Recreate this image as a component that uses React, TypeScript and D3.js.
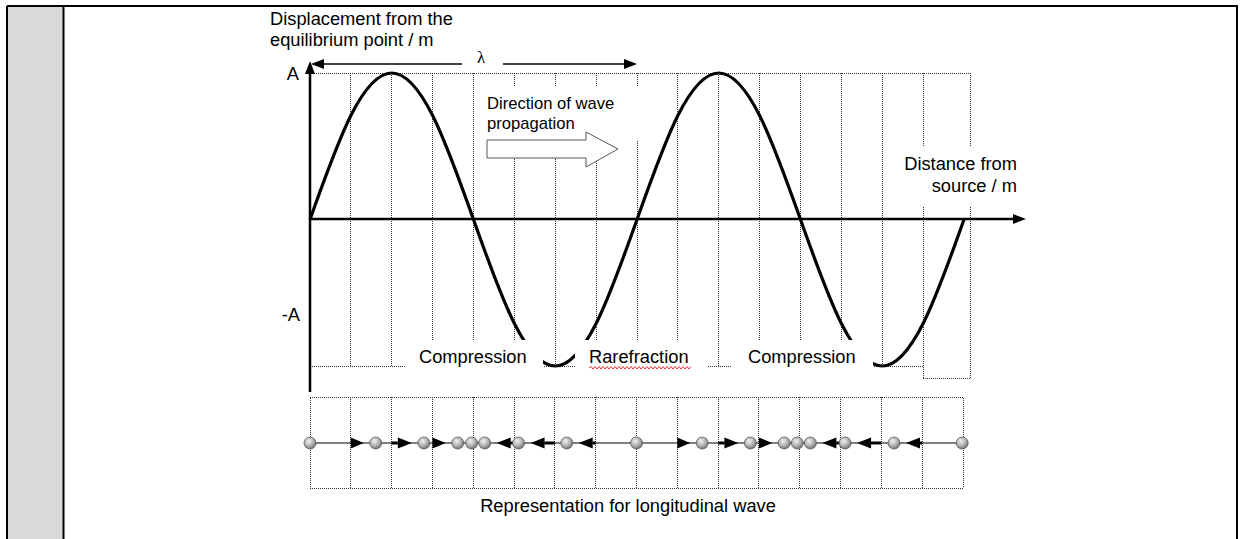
import * as d3 from "d3";

// grid cells along the distance axis (one cell = 1/8 wavelength)
const waveCells = [0, 1, 2, 3, 4, 5, 6, 7, 8, 9, 10, 11, 12, 13, 14, 15, 16];
// displacement (in units of A) read at each grid line
const waveDisp = [0, 0.71, 1, 0.71, 0, -0.71, -1, -0.71, 0, 0.71, 1, 0.71, 0, -0.71, -1, -0.71, 0];
const gridCells = [1, 2, 3, 4, 5, 6, 7, 8, 9, 10, 11, 12, 13, 14, 15];
const rightEdge = 16.17;

// particle positions (in cells) for the longitudinal representation
const particleEq = [0, 1, 2, 3, 4, 5, 6, 7, 8, 9, 10, 11, 12, 13, 14, 15, 16];
const particlePos = [0, 1.61, 2.79, 3.62, 3.96, 4.28, 5.11, 6.29, 8, 9.61, 10.79, 11.62, 11.94, 12.26, 13.11, 14.31, 15.98];

const labels = ["Compression", "Rarefraction", "Compression"];

const FONT = "'Liberation Sans', Arial, sans-serif";

export default function App() {
  const x = d3.scaleLinear().domain([0, 16]).range([310, 964]);
  const y = d3.scaleLinear().domain([-1, 1]).range([366, 73]);
  const xp = d3.scaleLinear().domain([0, 16]).range([310, 963]);
  const rowY = 443;

  const wavePts = waveCells.map((c, i) => [c, waveDisp[i]] as [number, number]);
  const wavePath = d3
    .line<[number, number]>()
    .x((d) => x(d[0]))
    .y((d) => y(d[1]))
    .curve(d3.curveNatural)(wavePts) as string;

  const dot = {
    stroke: "#333",
    strokeWidth: 1,
    strokeDasharray: "1 1",
    fill: "none",
    shapeRendering: "crispEdges" as const,
  };

  // red wavy spell-check underline
  let squiggle = "M589,368";
  for (let xx = 589, k = 0; xx < 690; xx += 2, k++) {
    squiggle += ` L${xx + 2},${k % 2 === 0 ? 366.5 : 369}`;
  }

  const labelBoxes = [
    { x0: 405, x1: 543, tx: 419 },
    { x0: 575, x1: 707, tx: 589 },
    { x0: 732, x1: 873, tx: 748 },
  ];

  const r = 6;

  return (
    <svg
      width={1240}
      height={539}
      style={{ position: "absolute", left: 0, top: 0, background: "#fff" }}
      fontFamily={FONT}
    >
      <defs>
        <radialGradient id="ball" cx="40%" cy="35%" r="70%">
          <stop offset="0%" stopColor="#f2f2f2" />
          <stop offset="60%" stopColor="#aaaaaa" />
          <stop offset="100%" stopColor="#686868" />
        </radialGradient>
      </defs>

      {/* page frame */}
      <rect x={8} y={7} width={55} height={532} fill="#d9d9d9" />
      <line x1={7} y1={6} x2={1238} y2={6} stroke="#000" strokeWidth={2} />
      <line x1={7} y1={6} x2={7} y2={539} stroke="#000" strokeWidth={2} />
      <line x1={63.5} y1={6} x2={63.5} y2={539} stroke="#000" strokeWidth={2} />
      <line x1={1237} y1={6} x2={1237} y2={539} stroke="#000" strokeWidth={2} />

      {/* dotted grid */}
      <line x1={x(0)} x2={x(rightEdge)} y1={y(1)} y2={y(1)} style={dot} />
      <line x1={x(0)} x2={x(15)} y1={y(-1)} y2={y(-1)} style={dot} />
      {gridCells.map((c) => (
        <line key={c} x1={x(c)} x2={x(c)} y1={y(1)} y2={c === 15 ? 378 : y(-1)} style={dot} />
      ))}
      <line x1={x(rightEdge)} x2={x(rightEdge)} y1={y(1)} y2={378} style={dot} />
      <line x1={x(15)} x2={x(rightEdge)} y1={378} y2={378} style={dot} />

      {/* wave */}
      <path d={wavePath} fill="none" stroke="#000" strokeWidth={3.2} />

      {/* axes */}
      <line x1={310} x2={310} y1={392} y2={72} stroke="#000" strokeWidth={2.5} />
      <path d="M310,61 L305,74 L315,74 Z" fill="#000" />
      <line x1={310} x2={1014} y1={219} y2={219} stroke="#000" strokeWidth={2.5} />
      <path d="M1026,219 L1013,214 L1013,224 Z" fill="#000" />

      {/* lambda */}
      <line x1={322} x2={462} y1={64} y2={64} stroke="#000" strokeWidth={1.3} />
      <line x1={503} x2={626} y1={64} y2={64} stroke="#000" strokeWidth={1.3} />
      <path d="M311,64 L324,59 L324,69 Z" fill="#000" />
      <path d="M637,64 L624,59 L624,69 Z" fill="#000" />
      <text x={481} y={63} fontSize={17} fontFamily="'Liberation Serif', serif" textAnchor="middle">
        λ
      </text>

      {/* axis labels */}
      <text x={270} y={25} fontSize={18.3}>Displacement from the</text>
      <text x={270} y={46} fontSize={18.3}>equilibrium point / m</text>
      <text x={299} y={80} fontSize={18.3} textAnchor="end">A</text>
      <text x={300} y={321} fontSize={18.3} textAnchor="end">-A</text>

      {/* direction of propagation */}
      <rect x={480} y={87} width={160} height={53} fill="#fff" />
      <text x={487} y={109} fontSize={16.6}>Direction of wave</text>
      <text x={487} y={129} fontSize={16.6}>propagation</text>
      <path
        d="M487,140 L586,140 L586,132 L618,149 L586,167 L586,158 L487,158 Z"
        fill="#fff"
        stroke="#555"
        strokeWidth={1}
      />

      {/* distance label */}
      <rect x={895} y={146} width={125} height={61} fill="#fff" />
      <text x={1017} y={170} fontSize={18.3} textAnchor="end">Distance from</text>
      <text x={1017} y={192} fontSize={18.3} textAnchor="end">source / m</text>

      {/* compression / rarefaction labels */}
      {labelBoxes.map((b, i) => (
        <g key={i}>
          <rect x={b.x0} y={340} width={b.x1 - b.x0} height={37} fill="#fff" />
          <text x={b.tx} y={363} fontSize={18.3}>{labels[i]}</text>
        </g>
      ))}
      <path d={squiggle} fill="none" stroke="#e02020" strokeWidth={0.9} />

      {/* longitudinal representation */}
      <rect x={xp(0)} y={397} width={xp(16) - xp(0)} height={91} style={dot} />
      {waveCells.slice(1, 16).map((c) => (
        <line key={c} x1={xp(c)} x2={xp(c)} y1={397} y2={488} style={dot} />
      ))}
      <line x1={xp(0)} x2={xp(16)} y1={rowY} y2={rowY} stroke="#000" strokeWidth={1} />
      {particleEq.map((e, i) => {
        const from = xp(e);
        const to = xp(particlePos[i]);
        const dir = Math.sign(to - from);
        if (Math.abs(to - from) < 8) return null;
        const tip = to - dir * (r + 6);
        const len = Math.abs(tip - from);
        const head = Math.min(14, len);
        const base = tip - dir * head;
        return (
          <g key={"a" + i}>
            {len > head && <line x1={from} x2={base} y1={rowY} y2={rowY} stroke="#000" strokeWidth={3} />}
            <path d={`M${tip},${rowY} L${base},${rowY - 5.5} L${base},${rowY + 5.5} Z`} fill="#000" />
          </g>
        );
      })}
      {particlePos.map((p, i) => (
        <circle key={"p" + i} cx={xp(p)} cy={rowY} r={r} fill="url(#ball)" stroke="#5a5a5a" strokeWidth={0.8} />
      ))}

      <text x={628} y={512} fontSize={18.3} textAnchor="middle">
        Representation for longitudinal wave
      </text>
    </svg>
  );
}
